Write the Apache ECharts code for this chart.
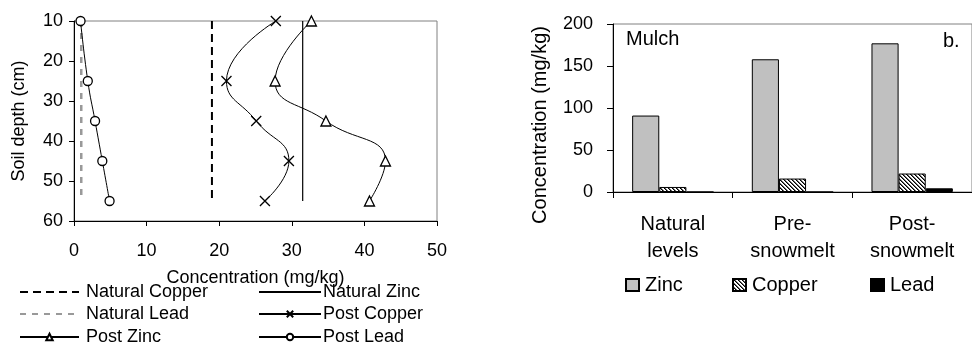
<!DOCTYPE html>
<html><head><meta charset="utf-8">
<script src="https://cdn.jsdelivr.net/npm/echarts@6/dist/echarts.min.js"></script>
<style>html,body{margin:0;padding:0;background:#fff}#c{width:972px;height:344px}</style>
</head><body><div id="c"></div>
<script>
// Soil profile (left): depth in cm, concentrations in mg/kg
const depths = [10, 25, 35, 45, 55];
const postLead = [0.9, 1.9, 2.9, 3.9, 4.9];
const postCopper = [27.8, 21.0, 25.1, 29.6, 26.3];
const postZinc = [32.7, 27.7, 34.7, 42.9, 40.7];
const naturalCopper = 19.0;
const naturalZinc = 31.5;
const naturalLead = 1.0;
const naturalSpan = [10, 55];
const depthTicks = [10, 20, 30, 40, 50, 60];
const concTicks = [0, 10, 20, 30, 40, 50];

// Mulch (right): mg/kg by stage
const stages = ['Natural\nlevels', 'Pre-\nsnowmelt', 'Post-\nsnowmelt'];
const mulchZinc = [91, 158, 177];
const mulchCopper = [6, 16, 22];
const mulchLead = [0, 0, 4.4];
const mulchTicks = [0, 50, 100, 150, 200];

const FONT = 'Liberation Sans, Arial, sans-serif';

// diagonal hatch used for copper bars
function hatchPattern() {
  const c = document.createElement('canvas');
  c.width = 4; c.height = 4;
  const g = c.getContext('2d');
  g.fillStyle = '#fff'; g.fillRect(0, 0, 4, 4);
  for (let y = 0; y < 4; y++) {
    for (let x = 0; x < 4; x++) {
      const d = ((x - y) % 4 + 4) % 4;
      if (d === 0) { g.fillStyle = '#000'; g.fillRect(x, y, 1, 1); }
      else if (d === 1) { g.fillStyle = '#666'; g.fillRect(x, y, 1, 1); }
    }
  }
  return c;
}

const profile = (xs) => depths.map((d, i) => [xs[i], d]);
const vertical = (x) => naturalSpan.map(d => [x, d]);

const axisText = { color: '#000', fontFamily: FONT, fontSize: 18 };
const blackLine = { lineStyle: { color: '#000', width: 1 } };

// one legend entry per component so each sits exactly where wanted
const hiddenMarker = { color: 'rgba(0,0,0,0)', borderColor: 'rgba(0,0,0,0)', borderWidth: 0, opacity: 0 };
function lineLegend(name, left, top, width, textPad, noMarker) {
  return {
    left, top, padding: 0, orient: 'horizontal', itemWidth: width, itemHeight: 8,
    data: [noMarker ? { name, itemStyle: hiddenMarker } : name],
    textStyle: { ...axisText, lineHeight: 18, padding: [0, 0, 0, textPad] }
  };
}
function boxLegend(name, left) {
  return {
    left, top: 275, padding: 0, orient: 'horizontal', itemWidth: 13, itemHeight: 12,
    icon: 'rect', data: [name],
    textStyle: { ...axisText, fontSize: 20, lineHeight: 20, padding: [0, 0, 0, 1] }
  };
}

const chart = echarts.init(document.getElementById('c'), null, { renderer: 'canvas' });
chart.setOption({
  animation: false,
  backgroundColor: '#fff',
  textStyle: { fontFamily: FONT },
  grid: [
    { left: 74, top: 21, width: 363, height: 200, show: true, borderColor: '#808080', borderWidth: 1 },
    { left: 613, top: 24, right: -6, bottom: 152, show: true, borderColor: '#808080', borderWidth: 1 }
  ],
  xAxis: [
    {
      gridIndex: 0, type: 'value', min: concTicks[0], max: concTicks[concTicks.length - 1], interval: 10,
      axisLine: { show: true, onZero: false, ...blackLine },
      axisTick: { show: true, inside: false, length: 5, ...blackLine },
      splitLine: { show: false },
      axisLabel: { ...axisText, margin: 21 },
      name: 'Concentration (mg/kg)', nameLocation: 'middle', nameGap: 48,
      nameTextStyle: { ...axisText }
    },
    {
      gridIndex: 1, type: 'category', data: stages,
      axisLine: { show: true, ...blackLine },
      axisTick: { show: true, inside: false, length: 6, alignWithLabel: false, ...blackLine },
      axisLabel: { ...axisText, fontSize: 20, lineHeight: 27, margin: 19, interval: 0 }
    }
  ],
  yAxis: [
    {
      gridIndex: 0, type: 'value', inverse: true, min: depthTicks[0], max: depthTicks[depthTicks.length - 1], interval: 10,
      axisLine: { show: true, onZero: false, ...blackLine },
      axisTick: { show: true, inside: false, length: 5, ...blackLine },
      splitLine: { show: false },
      axisLabel: { ...axisText, margin: 11 },
      name: 'Soil depth (cm)', nameLocation: 'middle', nameGap: 46, nameRotate: 90,
      nameTextStyle: { ...axisText }
    },
    {
      gridIndex: 1, type: 'value', min: mulchTicks[0], max: mulchTicks[mulchTicks.length - 1], interval: 50,
      axisLine: { show: true, ...blackLine },
      axisTick: { show: true, inside: false, length: 6, ...blackLine },
      splitLine: { show: false },
      axisLabel: { ...axisText, margin: 20 },
      name: 'Concentration (mg/kg)', nameLocation: 'middle', nameGap: 63, nameRotate: 90,
      nameTextStyle: { ...axisText, fontSize: 20, padding: [0, 34, 0, 0] }
    }
  ],
  legend: [
    lineLegend('Natural Copper', 19, 283, 59, 2, true),
    lineLegend('Natural Lead', 19, 305, 59, 2, true),
    lineLegend('Post Zinc', 19, 328, 59, 2, false),
    lineLegend('Natural Zinc', 258, 283, 62, -3, true),
    lineLegend('Post Copper', 258, 305, 62, -3, false),
    lineLegend('Post Lead', 258, 328, 62, -3, false),
    boxLegend('Zinc', 625),
    boxLegend('Copper', 732),
    boxLegend('Lead', 870)
  ],
  graphic: [
    { type: 'text', left: 626, top: 29, style: { text: 'Mulch', font: '20px ' + FONT, fill: '#000' } },
    { type: 'text', left: 943, top: 31, style: { text: 'b.', font: '20px ' + FONT, fill: '#000' } }
  ],
  series: [
    {
      name: 'Natural Copper', type: 'line', xAxisIndex: 0, yAxisIndex: 0, symbol: 'none',
      data: vertical(naturalCopper),
      lineStyle: { color: '#000', width: 2, type: [8, 5] }, itemStyle: { color: '#000' }
    },
    {
      name: 'Natural Zinc', type: 'line', xAxisIndex: 0, yAxisIndex: 0, symbol: 'none',
      data: vertical(naturalZinc),
      lineStyle: { color: '#000', width: 1.2 }, itemStyle: { color: '#000' }
    },
    {
      name: 'Natural Lead', type: 'line', xAxisIndex: 0, yAxisIndex: 0, symbol: 'none',
      data: vertical(naturalLead),
      lineStyle: { color: '#999', width: 2.5, type: [6, 6] }, itemStyle: { color: '#999' }
    },
    {
      name: 'Post Copper', type: 'line', xAxisIndex: 0, yAxisIndex: 0, smooth: 0.5,
      data: profile(postCopper),
      symbol: 'path://M0,0L10,10M0,10L10,0', symbolSize: 10,
      lineStyle: { color: '#000', width: 1 },
      itemStyle: { color: 'none', borderColor: '#000', borderWidth: 1.3 }
    },
    {
      name: 'Post Zinc', type: 'line', xAxisIndex: 0, yAxisIndex: 0, smooth: 0.5,
      data: profile(postZinc),
      symbol: 'triangle', symbolSize: 10,
      lineStyle: { color: '#000', width: 1 },
      itemStyle: { color: '#fff', borderColor: '#000', borderWidth: 1.3 }
    },
    {
      name: 'Post Lead', type: 'line', xAxisIndex: 0, yAxisIndex: 0, smooth: 0.5,
      data: profile(postLead),
      symbol: 'circle', symbolSize: 9,
      lineStyle: { color: '#000', width: 1 },
      itemStyle: { color: '#fff', borderColor: '#000', borderWidth: 1.3 }
    },
    {
      name: 'Zinc', type: 'bar', xAxisIndex: 1, yAxisIndex: 1, data: mulchZinc,
      barGap: '0%', barCategoryGap: '32%',
      itemStyle: { color: '#c0c0c0', borderColor: '#000', borderWidth: 1 }
    },
    {
      name: 'Copper', type: 'bar', xAxisIndex: 1, yAxisIndex: 1, data: mulchCopper,
      barGap: '0%', barCategoryGap: '32%',
      itemStyle: { color: { image: hatchPattern(), repeat: 'repeat' }, borderColor: '#000', borderWidth: 1 }
    },
    {
      name: 'Lead', type: 'bar', xAxisIndex: 1, yAxisIndex: 1, data: mulchLead,
      barGap: '0%', barCategoryGap: '32%',
      itemStyle: { color: '#000', borderColor: '#000', borderWidth: 1 }
    }
  ]
});
</script>
</body></html>
